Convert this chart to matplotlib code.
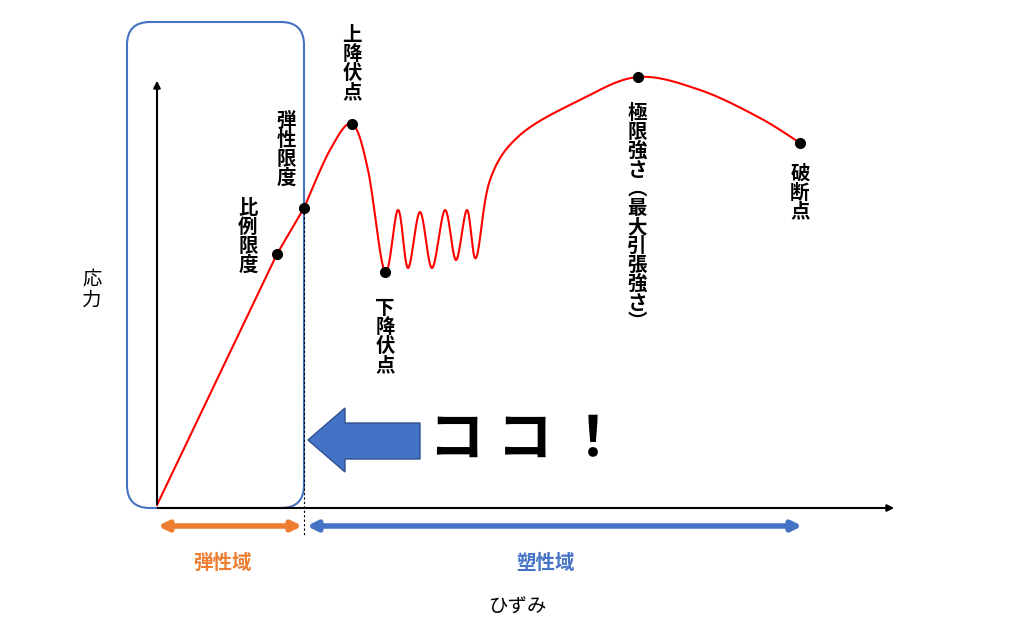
import matplotlib
matplotlib.use("Agg")
import matplotlib.pyplot as plt
import numpy as np
from matplotlib.patches import FancyBboxPatch, Polygon

plt.rcParams['font.family'] = ['Noto Sans CJK JP', 'DejaVu Sans']

# curve key points (pixel space of the diagram)
curve_x = [157, 277, 304, 330, 352, 368, 385, 398, 408, 420, 432, 445, 456, 467, 476, 490, 520, 580, 638, 700, 760, 800]
curve_y = [505, 254, 208, 150, 124, 170, 272, 210, 268, 212, 268, 210, 260, 210, 258, 180, 135, 100, 77, 90, 118, 143]
points = {
    "比例限度": (277, 254), "弾性限度": (304, 208), "上降伏点": (352, 124),
    "下降伏点": (385, 272), "極限強さ(最大引張強さ)": (638, 77), "破断点": (800, 143),
}
label_pos = {
    "比例限度": (248, 237), "弾性限度": (286, 150), "上降伏点": (352, 64),
    "下降伏点": (385, 337), "極限強さ(最大引張強さ)": (637, 218), "破断点": (800, 193),
}
BLUE = "#4472C4"
ORANGE = "#ED7D31"


def catmull(xs, ys, n=30):
    p = np.array(list(zip(xs, ys)), float)
    p = np.vstack([p[0], p, p[-1]])
    out = []
    for i in range(1, len(p) - 2):
        p0, p1, p2, p3 = p[i - 1], p[i], p[i + 1], p[i + 2]
        for t in np.linspace(0, 1, n, endpoint=False):
            out.append(0.5 * ((2 * p1) + (-p0 + p2) * t + (2 * p0 - 5 * p1 + 4 * p2 - p3) * t ** 2
                              + (-p0 + 3 * p1 - 3 * p2 + p3) * t ** 3))
    out.append(p[-2])
    return np.array(out)


fig = plt.figure(figsize=(10.25, 6.32), dpi=100)
ax = fig.add_axes([0, 0, 1, 1])
ax.set_xlim(0, 1025)
ax.set_ylim(632, 0)
ax.axis("off")

# straight elastic part then smooth curve
ax.plot(curve_x[:3], curve_y[:3], color="red", lw=1.5)
c = catmull(curve_x[2:], curve_y[2:])
ax.plot(c[:, 0], c[:, 1], color="red", lw=1.5)
for k, (x, y) in points.items():
    ax.plot(x, y, "o", color="black", ms=7)
    lx, ly = label_pos[k]
    txt = k.replace("(", "︵").replace(")", "︶")
    ax.text(lx, ly, "\n".join(txt), ha="center", va="center", fontsize=14,
            fontweight="bold", linespacing=1.0)

# axes
ax.annotate("", xy=(157, 78), xytext=(157, 507), arrowprops=dict(arrowstyle="-|>", color="black", lw=1.5))
ax.annotate("", xy=(897, 508), xytext=(155, 508), arrowprops=dict(arrowstyle="-|>", color="black", lw=1.5))
ax.plot([304, 304], [208, 535], color="black", lw=0.8, ls=(0, (2, 2)))

# rounded box
ax.add_patch(FancyBboxPatch((150, 45), 131, 440, boxstyle="round,pad=23", fc="none", ec=BLUE, lw=1.5))

# range arrows
ax.annotate("", xy=(155, 526), xytext=(305, 526), arrowprops=dict(arrowstyle="<|-|>", color=ORANGE, lw=4, mutation_scale=14))
ax.annotate("", xy=(304, 526), xytext=(805, 526), arrowprops=dict(arrowstyle="<|-|>", color=BLUE, lw=4, mutation_scale=14))
ax.text(223, 563, "弾性域", color=ORANGE, fontsize=14, fontweight="bold", ha="center", va="center")
ax.text(545, 563, "塑性域", color=BLUE, fontsize=14, fontweight="bold", ha="center", va="center")
ax.text(518, 607, "ひずみ", fontsize=14, ha="center", va="center")
ax.text(92, 290, "応\n力", fontsize=14, ha="center", va="center", linespacing=1.0)

# big arrow
ax.add_patch(Polygon([(308, 440), (345, 408), (345, 423), (420, 423), (420, 459), (345, 459), (345, 472)],
                     closed=True, fc=BLUE, ec="#2F528F", lw=1))
ax.text(525, 440, "コ コ ！", fontsize=40, fontweight="bold", ha="center", va="center")

fig.savefig("out.png", dpi=100)
